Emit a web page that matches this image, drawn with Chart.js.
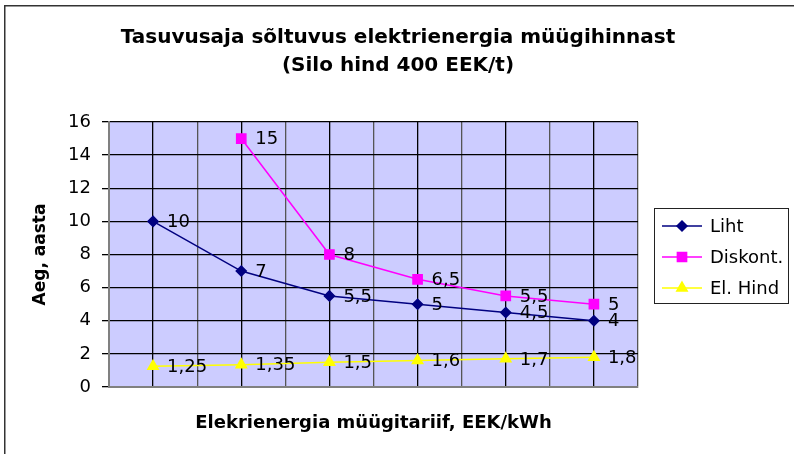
<!DOCTYPE html>
<html>
<head>
<meta charset="utf-8">
<script src="https://cdn.jsdelivr.net/npm/chart.js@4/dist/chart.umd.min.js"></script>
<style>
  html, body { margin: 0; padding: 0; background: #fff; overflow: hidden; }
  #wrap { width: 796px; height: 454px; position: relative; }
  canvas { display: block; }
</style>
</head>
<body>
<div id="wrap"><canvas id="tasuvus"></canvas></div>
<script>
// Chart data
const categories = [1, 2, 3, 4, 5, 6]; // no labels shown on x axis
const liht = [10, 7, 5.5, 5, 4.5, 4];
const diskont = [null, 15, 8, 6.5, 5.5, 5];
const elHind = [1.25, 1.35, 1.5, 1.6, 1.7, 1.8];
const seriesNames = ["Liht", "Diskont.", "El. Hind"];
const yTicks = [0, 2, 4, 6, 8, 10, 12, 14, 16];

const FONT = "'DejaVu Sans', sans-serif";

function toPoints(values) {
    return values.map((v, i) => ({ x: categories[i], y: v }));
}

// background, outer frame (left + top only) and plot fill
const backgroundPlugin = {
    id: "bg",
    beforeDraw(chart) {
        const { ctx, chartArea: a } = chart;
        ctx.save();
        ctx.fillStyle = "#fff";
        ctx.fillRect(0, 0, chart.width, chart.height);
        ctx.fillStyle = "#333";
        ctx.fillRect(4, 5, 1.5, chart.height - 5);   // left edge of frame
        ctx.fillRect(4, 5, chart.width - 6, 1.5);    // top edge of frame
        ctx.fillStyle = "#CCCCFF";
        ctx.fillRect(a.left, a.top, a.right - a.left, a.bottom - a.top);
        ctx.restore();
    }
};

// value labels next to each point (comma decimal)
const valueLabels = {
    id: "valueLabels",
    afterDatasetsDraw(chart) {
        const ctx = chart.ctx;
        ctx.save();
        ctx.font = "18px " + FONT;
        ctx.fillStyle = "#000";
        ctx.textAlign = "left";
        ctx.textBaseline = "middle";
        chart.data.datasets.forEach((ds, di) => {
            chart.getDatasetMeta(di).data.forEach((pt, i) => {
                const v = ds.data[i].y;
                if (v === null || v === undefined) return;
                ctx.fillText(String(v).replace(".", ","), pt.x + 14, pt.y + 1);
            });
        });
        ctx.restore();
    }
};

// boxed legend with line + marker samples
const boxLegend = {
    id: "boxLegend",
    afterDraw(chart) {
        const ctx = chart.ctx;
        const x0 = 654.5, y0 = 208.5, w = 134, h = 95;
        ctx.save();
        ctx.fillStyle = "#fff";
        ctx.fillRect(x0, y0, w, h);
        ctx.strokeStyle = "#222";
        ctx.lineWidth = 1;
        ctx.strokeRect(x0, y0, w, h);
        ctx.font = "18px " + FONT;
        ctx.textBaseline = "middle";
        ctx.textAlign = "left";
        chart.data.datasets.forEach((ds, i) => {
            const y = 226 + i * 31;
            ctx.strokeStyle = ds.borderColor;
            ctx.lineWidth = 1.5;
            ctx.beginPath();
            ctx.moveTo(662, y);
            ctx.lineTo(702, y);
            ctx.stroke();
            ctx.fillStyle = ds.backgroundColor;
            ctx.strokeStyle = ds.borderColor;
            Chart.helpers.drawPoint(ctx, {
                pointStyle: ds.pointStyle,
                radius: ds.pointRadius,
                borderWidth: 1
            }, 682, y);
            ctx.fillStyle = "#000";
            ctx.fillText(ds.label, 710, y + 1);
        });
        ctx.restore();
    }
};

function lineSet(label, values, color, style, radius) {
    return {
        label: label,
        data: toPoints(values),
        borderColor: color,
        backgroundColor: color,
        borderWidth: 1.5,
        pointStyle: style,
        pointRadius: radius,
        pointHoverRadius: radius,
        tension: 0
    };
}

new Chart(document.getElementById("tasuvus"), {
    type: "line",
    data: {
        datasets: [
            lineSet(seriesNames[0], liht, "#000080", "rectRot", 5),
            lineSet(seriesNames[1], diskont, "#FF00FF", "rect", 6.5),
            lineSet(seriesNames[2], elHind, "#FFFF00", "triangle", 6)
        ]
    },
    options: {
        responsive: true,
        maintainAspectRatio: false,
        animation: false,
        layout: { padding: 0 },
        plugins: {
            legend: { display: false },
            tooltip: { enabled: false },
            title: {
                display: true,
                text: ["Tasuvusaja sõltuvus elektrienergia müügihinnast", "(Silo hind 400 EEK/t)"],
                color: "#000",
                font: { family: FONT, size: 20, weight: "bold", lineHeight: 28 / 20 },
                padding: { top: 24, bottom: 42 }
            }
        },
        scales: {
            x: {
                type: "linear",
                min: 0.5,
                max: 6.5,
                afterBuildTicks(scale) {
                    const t = [];
                    for (let v = 0.5; v <= 6.5; v += 0.5) t.push({ value: v });
                    scale.ticks = t;
                },
                ticks: { display: false },
                grid: {
                    drawTicks: false,
                    color: (c) => (c.tick && Number.isInteger(c.tick.value) ? "#000" : "#555"),
                    lineWidth: 1.3
                },
                border: { color: "#808080", width: 2 },
                title: {
                    display: true,
                    text: "Elekrienergia müügitariif, EEK/kWh",
                    color: "#000",
                    font: { family: FONT, size: 18, weight: "bold", lineHeight: 1.2 },
                    padding: { top: 20, bottom: 20 }
                },
                afterFit(scale) { scale.height = 67; }
            },
            y: {
                min: 0,
                max: 16,
                afterBuildTicks(scale) {
                    scale.ticks = yTicks.map((v) => ({ value: v }));
                },
                ticks: {
                    color: "#000",
                    font: { family: FONT, size: 18 },
                    padding: 11
                },
                grid: { color: "#000", lineWidth: 1.3, tickLength: 7, drawTicks: true },
                border: { color: "#808080", width: 2 },
                title: {
                    display: true,
                    text: "Aeg, aasta",
                    color: "#000",
                    font: { family: FONT, size: 17, weight: "bold", lineHeight: 1.2 },
                    padding: { top: 30, bottom: 30 }
                },
                afterFit(scale) { scale.width = 109; }
            },
            // empty right-hand axis that only reserves room for the legend box
            spacer: {
                type: "linear",
                position: "right",
                display: true,
                ticks: { display: false },
                grid: { display: false, drawTicks: false },
                border: { display: false },
                afterFit(scale) { scale.width = 158; }
            }
        }
    },
    plugins: [backgroundPlugin, valueLabels, boxLegend]
});
</script>
</body>
</html>
